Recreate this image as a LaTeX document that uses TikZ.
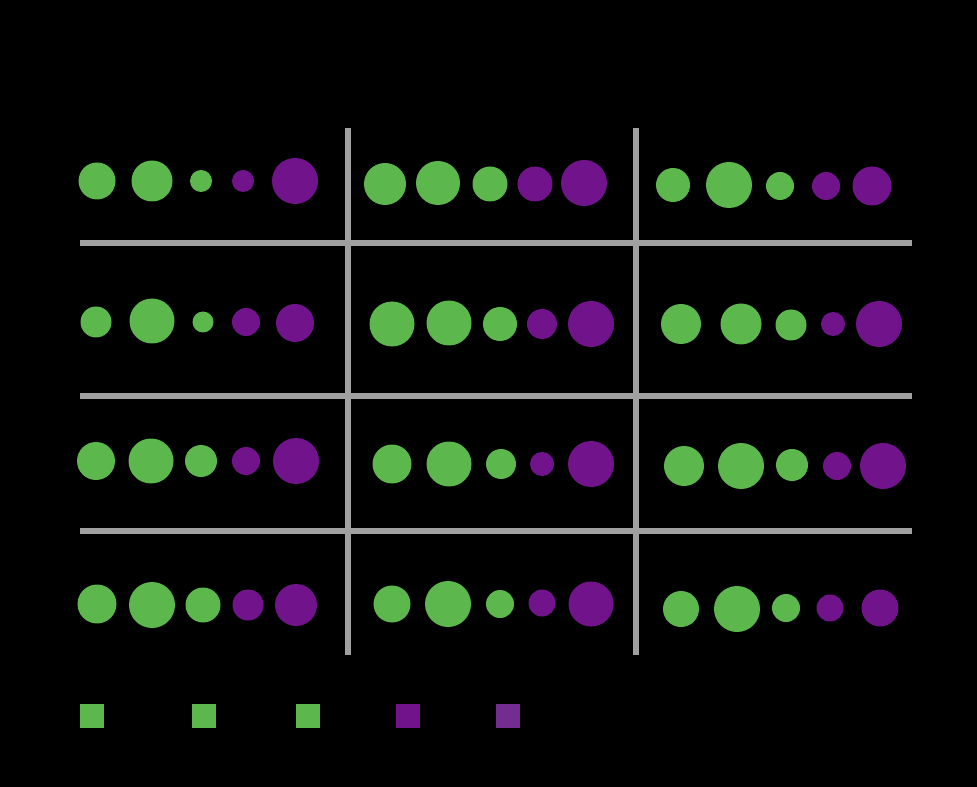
\documentclass[tikz,border=0pt]{standalone}
\begin{document}
\begin{tikzpicture}[x=0.75pt,y=-0.75pt,
  gdot/.style={circle,fill=dotgreen,draw=none,inner sep=0pt,minimum size=#1*1.5pt},
  pdot/.style={circle,fill=dotpurple,draw=none,inner sep=0pt,minimum size=#1*1.5pt},
  gridline/.style={draw=gridgray,line width=4.5pt},
  legsq/.style={rectangle,draw=none,inner sep=0pt,minimum size=18pt}]
\definecolor{dotgreen}{HTML}{5CB84C}
\definecolor{dotpurple}{HTML}{71148C}
\definecolor{legpurple}{HTML}{732D91}
\definecolor{gridgray}{HTML}{A0A0A0}
\fill[black] (0,0) rectangle (977,787);
\useasboundingbox (0,0) rectangle (977,787);
% grid lines
\coordinate (v1t) at (348,128); \coordinate (v1b) at (348,655);
\coordinate (v2t) at (636,128); \coordinate (v2b) at (636,655);
\coordinate (h1l) at (80,243); \coordinate (h1r) at (912,243);
\coordinate (h2l) at (80,396); \coordinate (h2r) at (912,396);
\coordinate (h3l) at (80,531); \coordinate (h3r) at (912,531);
\draw[gridline] (v1t) -- (v1b);
\draw[gridline] (v2t) -- (v2b);
\draw[gridline] (h1l) -- (h1r);
\draw[gridline] (h2l) -- (h2r);
\draw[gridline] (h3l) -- (h3r);
% dots: name/x/y/radius/style
\foreach \n/\x/\y/\r/\s in {
 a1/97/181/18.5/gdot, a2/152/181/20.5/gdot, a3/201/181/11/gdot, a4/243/181/11/pdot, a5/295/181/23/pdot,
 b1/385/184/21/gdot, b2/438/183/22/gdot, b3/490/184/17.5/gdot, b4/535/184/17.5/pdot, b5/584/183/23/pdot,
 c1/673/185/17/gdot, c2/729/185/23/gdot, c3/780/186/14/gdot, c4/826/186/14/pdot, c5/872/186/19.5/pdot,
 d1/96/322/15.5/gdot, d2/152/321/22.5/gdot, d3/203/322/10.5/gdot, d4/246/322/14/pdot, d5/295/323/19/pdot,
 e1/392/324/22.5/gdot, e2/449/323/22.5/gdot, e3/500/324/17/gdot, e4/542/324/15/pdot, e5/591/324/23/pdot,
 f1/681/324/20/gdot, f2/741/324/20.5/gdot, f3/791/325/15.5/gdot, f4/833/324/12/pdot, f5/879/324/23/pdot,
 g1/96/461/19/gdot, g2/151/461/22.5/gdot, g3/201/461/16/gdot, g4/246/461/14/pdot, g5/296/461/23/pdot,
 h1/392/464/19.5/gdot, h2/449/464/22.5/gdot, h3/501/464/15/gdot, h4/542/464/12/pdot, h5/591/464/23/pdot,
 i1/684/466/20/gdot, i2/741/466/23/gdot, i3/792/465/16/gdot, i4/837/466/14/pdot, i5/883/466/23/pdot,
 j1/97/604/19.5/gdot, j2/152/605/23/gdot, j3/203/605/17.5/gdot, j4/248/605/15.5/pdot, j5/296/605/21/pdot,
 k1/392/604/18.5/gdot, k2/448/604/23/gdot, k3/500/604/14/gdot, k4/542/603/13.5/pdot, k5/591/604/22.5/pdot,
 l1/681/609/18/gdot, l2/737/609/23/gdot, l3/786/608/14/gdot, l4/830/608/13.5/pdot, l5/880/608/18.5/pdot}
 { \node[\s=\r] (dot\n) at (\x,\y) {}; }
% legend
\node[legsq,fill=dotgreen] (leg1) at (92,716) {};
\node[legsq,fill=dotgreen] (leg2) at (204,716) {};
\node[legsq,fill=dotgreen] (leg3) at (308,716) {};
\node[legsq,fill=dotpurple] (leg4) at (408,716) {};
\node[legsq,fill=legpurple] (leg5) at (508,716) {};
\end{tikzpicture}
\end{document}
